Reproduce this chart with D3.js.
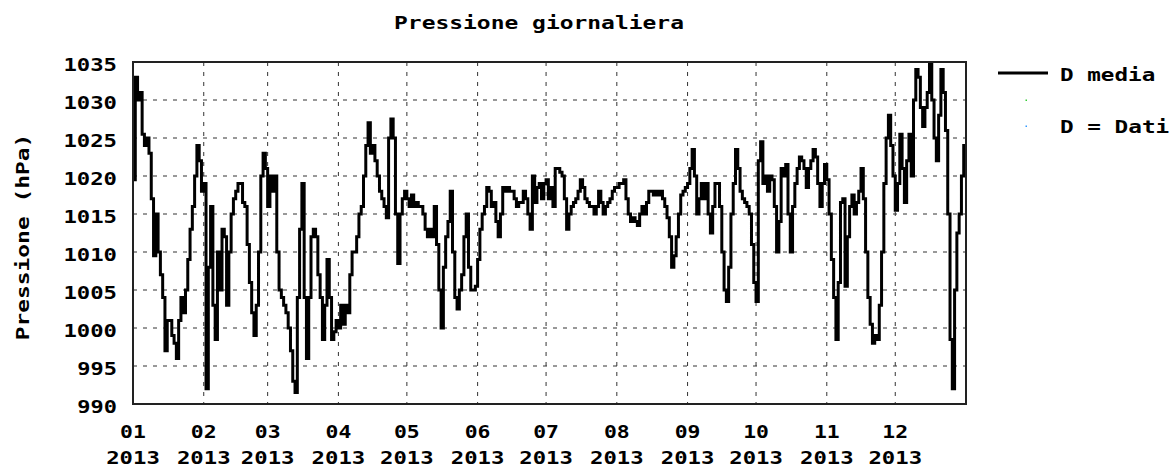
<!DOCTYPE html>
<html>
<head>
<meta charset="utf-8">
<script src="https://cdn.jsdelivr.net/npm/d3@7"></script>
<style>
    body { margin: 0; background: #fff; }
    text { font-family: "DejaVu Sans Mono", monospace; font-weight: bold; fill: #000; }
</style>
</head>
<body>
<svg id="chart"></svg>
<script>
const year = 2013;
const monthLabels = ['01','02','03','04','05','06','07','08','09','10','11','12'];
const yTicks = [990, 995, 1000, 1005, 1010, 1015, 1020, 1025, 1030, 1035];

// daily mean pressure (hPa), one array per month
const jan = [1019.5,1033,1030,1031,1025.5,1024,1025,1023,1017,1009.5,1015,1010,1007,1004,997,1001,1001,999,998,996,1001,1004,1002,1005,1009,1013,1016,1020,1024,1022,1018];
const feb = [1019,992,1008,1016,1003,998.5,1010,1005,1013,1012,1003,1010,1015,1017,1018,1019,1019,1016.5,1016,1011,1006,1002,999,1003,1010,1020,1023,1021];
const mar = [1016,1020,1018,1020,1010,1005,1004,1003,1002,1000,997,993,991.5,1004,1013,1019,1004,996,1004,1012,1013,1012,1007,1004,998.5,1003,1009,1004,998.5,999.5,1001];
const apr = [1000,1003,1000.5,1003,1002,1007,1010,1010,1012,1015,1016,1020,1024,1027,1023,1024,1022,1020,1018,1017,1016,1014.5,1025,1027.5,1025,1015,1008.5,1015,1017,1018];
const may = [1017,1016,1017.5,1016,1016.5,1016,1016,1015,1013,1012,1013,1012,1016,1011,1005,1000,1008,1012,1014,1018,1010,1004,1002.5,1005,1007,1012,1015,1008,1005,1005,1005.5];
const jun = [1009,1013,1015,1016,1018.5,1018,1016,1016.5,1014,1012,1015,1018.5,1018,1018.5,1018,1018,1017,1016,1016.5,1016.5,1018,1017,1015,1013,1020,1016.5,1018.5,1019,1017,1019];
const jul = [1019.5,1017,1018.5,1016,1021,1021,1020.5,1020,1017,1013,1015,1016,1016.5,1017,1018,1019.5,1018.5,1017,1016.5,1016,1016,1015,1016,1018,1016.5,1015,1016,1016.5,1017,1018,1018.5];
const aug = [1018.5,1019,1019,1019.5,1017,1015,1014,1014.5,1014,1013.5,1015,1016,1015,1016.5,1018,1018,1017.5,1018,1017.5,1018,1017,1016,1014.5,1012,1008,1009.5,1012,1015,1017.5,1018,1018.5];
const sep = [1019,1021,1023.5,1020,1015,1017,1019,1017,1019,1015,1012.5,1016,1019,1019,1016,1010,1005,1003.5,1008,1015,1019,1023.5,1021,1018,1017,1016.5,1016,1015,1011,1006];
const oct = [1003.5,1022,1024.5,1019,1020,1018,1020,1019.5,1016,1010,1014,1021,1020,1021.5,1015,1010,1016,1019,1021,1022.5,1022,1021,1018.5,1021,1022,1023.5,1022.5,1019,1016,1019,1021.5];
const nov = [1019.5,1015,1009,1004,998.5,1006,1016.5,1017,1005.5,1012,1016,1017.5,1015,1016.5,1018,1021,1017,1010,1004,1000.5,998,999,998.5,1003,1010,1019,1025,1028,1024,1020];
const dec = [1015.5,1019,1025.5,1021,1016.5,1022,1025.5,1020,1030,1034,1033,1029,1026.5,1029,1031,1035,1030,1025,1022,1028,1034,1031,1026,1015,998.5,992,1005,1012.5,1015,1020,1024];

const months = [jan, feb, mar, apr, may, jun, jul, aug, sep, oct, nov, dec];

class PressureChart {
    constructor (config, data) {
        this.config = {
            parent: config.parent,
            width: config.width || 1174,
            height: config.height || 468,
            margin: config.margin || {top:62, right:208, bottom:64, left:133},
            charw: config.charw || 13.9
        };
        this.data = data;
        this.init();
    }

    // stretch the mono font to the wide pixel font of the original
    fit(sel) {
        let self = this;
        sel.attr('textLength', function () { return this.textContent.length * self.config.charw - 2; })
           .attr('lengthAdjust', 'spacingAndGlyphs');
    }

    init() {
        let self = this;

        self.svg = d3.select(self.config.parent)
            .attr('width', self.config.width)
            .attr('height', self.config.height);

        self.inner_width = self.config.width - self.config.margin.left - self.config.margin.right;
        self.inner_height = self.config.height - self.config.margin.top - self.config.margin.bottom;

        self.chart = self.svg.append('g')
            .attr('transform', `translate(${self.config.margin.left}, ${self.config.margin.top})`);

        self.xscale = d3.scaleTime()
            .domain([new Date(year, 0, 1), new Date(year + 1, 0, 1)])
            .range([0, self.inner_width]);

        self.yscale = d3.scaleLinear()
            .domain([990, 1035])
            .range([self.inner_height, 0]);

        self.svg.append('text')
            .style('font-size', '18px')
            .attr('text-anchor', 'middle')
            .attr('x', 539)
            .attr('y', 29)
            .text('Pressione giornaliera')
            .call(s => self.fit(s));

        self.svg.append('text')
            .style('font-size', '18px')
            .attr('text-anchor', 'middle')
            .attr('transform', 'translate(29, 237) rotate(-90)')
            .text('Pressione (hPa)')
            .call(s => self.fit(s));
    }

    render() {
        let self = this;
        const W = self.inner_width, H = self.inner_height;

        const monthStarts = d3.range(12).map(m => new Date(year, m, 1));

        // grid
        self.chart.selectAll('.hgrid')
            .data(yTicks.slice(1, -1))
            .join('line')
            .attr('x1', 0).attr('x2', W)
            .attr('y1', d => self.yscale(d)).attr('y2', d => self.yscale(d))
            .attr('stroke', '#333')
            .attr('stroke-dasharray', '4,6');

        self.chart.selectAll('.vgrid')
            .data(monthStarts.slice(1))
            .join('line')
            .attr('x1', d => self.xscale(d)).attr('x2', d => self.xscale(d))
            .attr('y1', 0).attr('y2', H)
            .attr('stroke', '#333')
            .attr('stroke-dasharray', '4,6');

        // line
        self.chart.append('clipPath').attr('id', 'clip')
            .append('rect').attr('width', W).attr('height', H);

        const line = d3.line()
            .x(d => self.xscale(d.date))
            .y(d => self.yscale(d.value))
            .curve(d3.curveStepAfter);

        self.chart.append('path')
            .attr('clip-path', 'url(#clip)')
            .attr('d', line(self.data))
            .attr('fill', 'none')
            .attr('stroke', '#000')
            .attr('stroke-width', 3);

        // frame
        self.chart.append('rect')
            .attr('width', W).attr('height', H)
            .attr('fill', 'none')
            .attr('stroke', '#222')
            .attr('stroke-width', 2);

        // y labels
        self.chart.selectAll('.ylab')
            .data(yTicks)
            .join('text')
            .style('font-size', '18px')
            .attr('text-anchor', 'end')
            .attr('x', -16)
            .attr('y', d => self.yscale(d) + 9)
            .text(d => d)
            .call(s => self.fit(s));

        // x labels, two lines
        const xl = self.chart.selectAll('.xlab')
            .data(monthStarts)
            .join('g')
            .attr('transform', d => `translate(${self.xscale(d)}, ${H})`);
        xl.append('text')
            .style('font-size', '18px')
            .attr('text-anchor', 'middle')
            .attr('y', 34)
            .text((d, i) => monthLabels[i])
            .call(s => self.fit(s));
        xl.append('text')
            .style('font-size', '18px')
            .attr('text-anchor', 'middle')
            .attr('y', 60)
            .text(year)
            .call(s => self.fit(s));

        // legend
        const lg = self.svg.append('g');
        lg.append('line')
            .attr('x1', 998).attr('x2', 1048)
            .attr('y1', 73).attr('y2', 73)
            .attr('stroke', '#000').attr('stroke-width', 3);
        lg.append('text')
            .style('font-size', '18px')
            .attr('x', 1060).attr('y', 81)
            .text('D media')
            .call(s => self.fit(s));
        lg.append('rect')
            .attr('x', 1025.5).attr('y', 99.5).attr('width', 1.5).attr('height', 1.5)
            .attr('fill', '#33cc33');
        lg.append('rect')
            .attr('x', 1025.5).attr('y', 125.5).attr('width', 1.5).attr('height', 1.5)
            .attr('fill', '#3399ff');
        lg.append('text')
            .style('font-size', '18px')
            .attr('x', 1060).attr('y', 133)
            .text('D = Dati')
            .call(s => self.fit(s));
    }
}

const series = [];
months.forEach((vals, m) => {
    vals.forEach((v, i) => series.push({date: new Date(year, m, i + 1), value: v}));
});
series.push({date: new Date(year + 1, 0, 1), value: dec[dec.length - 1]});

const chart = new PressureChart({parent: '#chart'}, series);
chart.render();
</script>
</body>
</html>
